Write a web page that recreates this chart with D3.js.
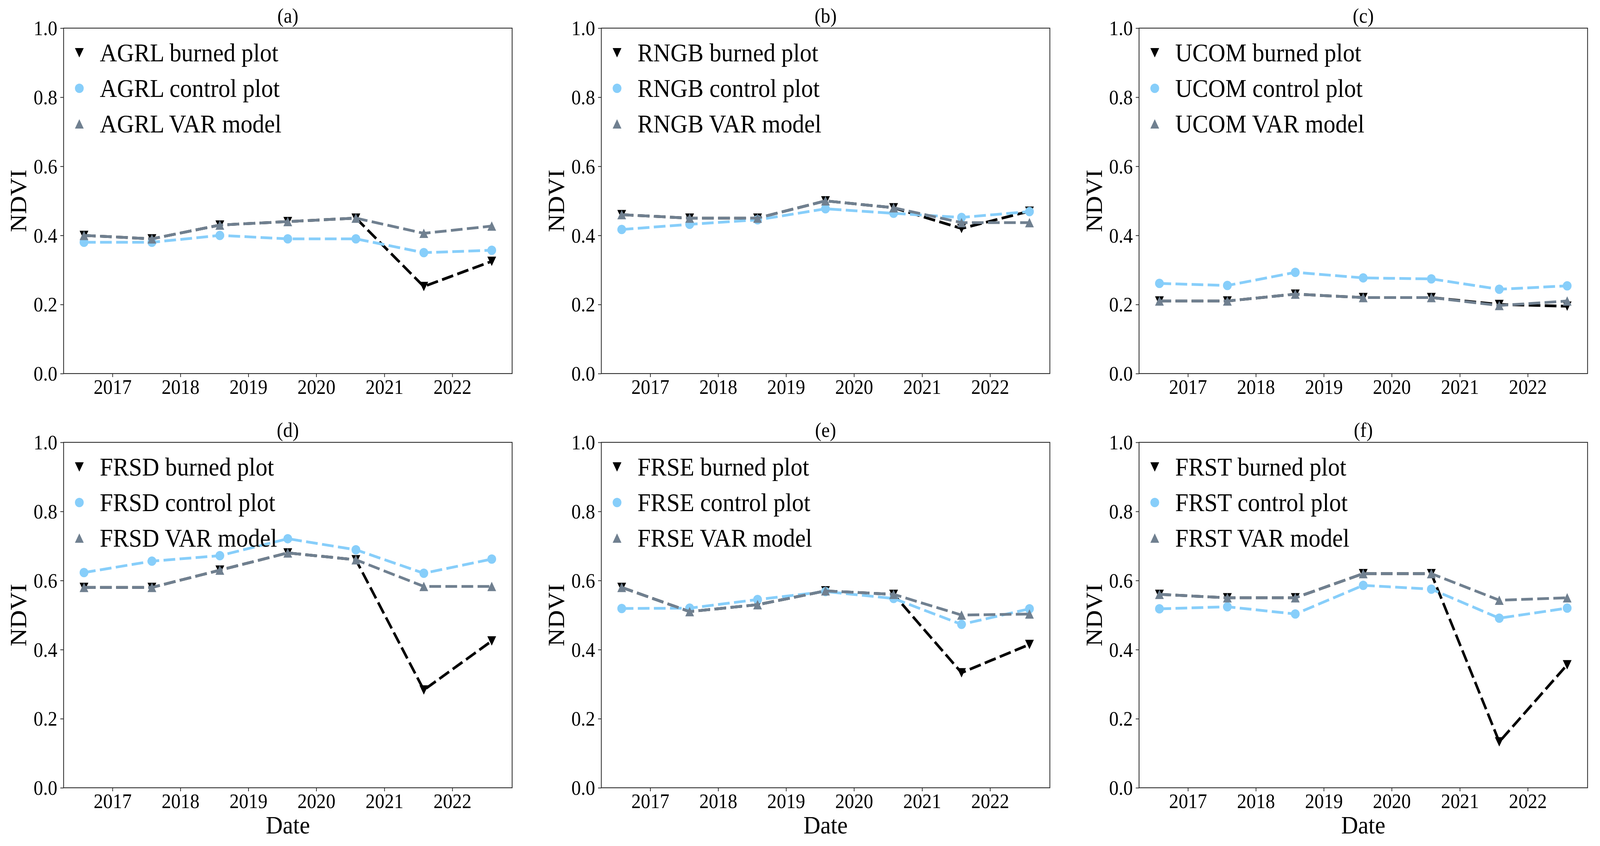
<!DOCTYPE html>
<html>
<head>
<meta charset="utf-8">
<script src="https://cdn.jsdelivr.net/npm/d3@7"></script>
<style>
  html, body { margin: 0; padding: 0; width: 100%; height: 100%; overflow: hidden; background: #fff; }
  svg { display: block; width: 100vw; height: 100vh; }
  text { font-family: "Liberation Serif", "Times New Roman", serif; fill: #000; }
</style>
</head>
<body>
<svg id="chart"></svg>
<script>
// observation dates (one per summer)
const dates = ['2016-08-01', '2017-08-01', '2018-08-01', '2019-08-01', '2020-08-01', '2021-08-01', '2022-08-01'];

const landCovers = ['AGRL', 'RNGB', 'UCOM', 'FRSD', 'FRSE', 'FRST'];
const panelTags = ['(a)', '(b)', '(c)', '(d)', '(e)', '(f)'];

const burnedValues = [
  [0.40, 0.39, 0.43, 0.44, 0.45, 0.252, 0.325],
  [0.46, 0.45, 0.45, 0.50, 0.48, 0.42, 0.47],
  [0.21, 0.21, 0.23, 0.22, 0.22, 0.20, 0.195],
  [0.58, 0.58, 0.63, 0.68, 0.66, 0.283, 0.425],
  [0.58, 0.51, 0.53, 0.57, 0.56, 0.333, 0.415],
  [0.56, 0.55, 0.55, 0.62, 0.62, 0.133, 0.356],
];

const controlValues = [
  [0.38, 0.38, 0.40, 0.39, 0.39, 0.35, 0.357],
  [0.417, 0.432, 0.445, 0.477, 0.464, 0.452, 0.469],
  [0.261, 0.255, 0.293, 0.277, 0.274, 0.244, 0.254],
  [0.623, 0.656, 0.672, 0.721, 0.689, 0.621, 0.662],
  [0.519, 0.52, 0.545, 0.568, 0.548, 0.473, 0.518],
  [0.518, 0.524, 0.503, 0.586, 0.575, 0.491, 0.52],
];

const varModelValues = [
  [0.40, 0.39, 0.43, 0.44, 0.45, 0.406, 0.427],
  [0.46, 0.45, 0.45, 0.50, 0.48, 0.437, 0.437],
  [0.21, 0.21, 0.23, 0.22, 0.22, 0.197, 0.21],
  [0.58, 0.58, 0.63, 0.68, 0.66, 0.583, 0.583],
  [0.58, 0.51, 0.53, 0.57, 0.56, 0.50, 0.503],
  [0.56, 0.55, 0.55, 0.62, 0.62, 0.543, 0.55],
];

const yTicks = [0, 0.2, 0.4, 0.6, 0.8, 1.0];

/**
 * Layout
 */
const W = 4377, H = 2165;
const colLeft = [174, 1645, 3116];
const rowTop = [72, 1132];
const plotW = 1227, plotH = 884;
const markerSize = 24;
const spineColor = '#2b2b2b';

const seriesDefs = [
  { key: 'burned', label: 'burned plot', color: '#000000', shape: 'down', values: burnedValues },
  { key: 'control', label: 'control plot', color: '#87CEFA', shape: 'circle', values: controlValues },
  { key: 'var', label: 'VAR model', color: '#708090', shape: 'up', values: varModelValues },
];

const parseDate = d3.utcParse('%Y-%m-%d');
const xDates = dates.map(parseDate);

// matplotlib-like 5% margins on the date axis
const [t0, t1] = d3.extent(xDates).map(d => +d);
const pad = (t1 - t0) * 0.05;

function markerPath(shape, s) {
  const h = s / 2;
  if (shape === 'down') return `M${-h},${-h}L${h},${-h}L0,${h}Z`;
  if (shape === 'up') return `M${-h},${h}L${h},${h}L0,${-h}Z`;
  return null;
}

function drawMarker(sel, shape, color) {
  if (shape === 'circle') {
    sel.append('circle').attr('r', markerSize / 2).attr('fill', color);
  } else {
    sel.append('path').attr('d', markerPath(shape, markerSize)).attr('fill', color);
  }
}

// stretch to the whole viewport so the layout lines up with the 4377x2165 frame
const svg = d3.select('#chart')
  .attr('viewBox', `0 0 ${W} ${H}`)
  .attr('preserveAspectRatio', 'none');

landCovers.forEach((lc, i) => {
  const row = Math.floor(i / 3);
  const col = i % 3;
  const left = colLeft[col];
  const top = rowTop[row];

  const x = d3.scaleUtc().domain([new Date(t0 - pad), new Date(t1 + pad)]).range([0, plotW]);
  const y = d3.scaleLinear().domain([0, 1]).range([plotH, 0]);

  const g = svg.append('g').attr('transform', `translate(${left},${top})`);

  // axes
  const xAxis = d3.axisBottom(x)
    .ticks(d3.utcYear.every(1))
    .tickFormat(d3.utcFormat('%Y'))
    .tickSize(9);
  const yAxis = d3.axisLeft(y)
    .tickValues(yTicks)
    .tickFormat(d3.format('.1f'))
    .tickSize(9);

  const gx = g.append('g').attr('transform', `translate(0,${plotH})`).call(xAxis);
  const gy = g.append('g').call(yAxis);

  [gx, gy].forEach(ax => {
    ax.attr('font-family', null);
    ax.select('.domain').remove();
    ax.selectAll('line').attr('stroke', spineColor).attr('stroke-width', 2);
    ax.selectAll('text').attr('font-size', 52).attr('fill', '#000');
  });
  gx.selectAll('text').attr('y', 52).attr('dy', 0);
  gy.selectAll('text').attr('x', -17).attr('dy', '0.34em');

  // series lines + markers
  seriesDefs.forEach(s => {
    const pts = xDates.map((d, k) => ({ d, v: s.values[i][k] }));
    const line = d3.line().x(p => x(p.d)).y(p => y(p.v));
    g.append('path')
      .datum(pts)
      .attr('d', line)
      .attr('fill', 'none')
      .attr('stroke', s.color)
      .attr('stroke-width', 7)
      .attr('stroke-dasharray', '32 12');
    const mk = g.append('g').selectAll('g')
      .data(pts)
      .enter()
      .append('g')
      .attr('transform', p => `translate(${x(p.d)},${y(p.v)})`);
    drawMarker(mk, s.shape, s.color);
  });

  // frame
  g.append('rect')
    .attr('width', plotW).attr('height', plotH)
    .attr('fill', 'none')
    .attr('stroke', spineColor)
    .attr('stroke-width', 2.2);

  // legend (markers only, no frame)
  const leg = g.append('g');
  seriesDefs.forEach((s, k) => {
    const cy = 63 + k * 91;
    const m = leg.append('g').attr('transform', `translate(43,${cy})`);
    drawMarker(m, s.shape, s.color);
    leg.append('text')
      .attr('x', 99)
      .attr('y', cy + 22)
      .attr('font-size', 65)
      .text(`${lc} ${s.label}`);
  });

  // panel tag
  g.append('text')
    .attr('x', plotW / 2)
    .attr('y', -14)
    .attr('text-anchor', 'middle')
    .attr('font-size', 52)
    .text(panelTags[i]);

  // y label
  g.append('text')
    .attr('transform', `translate(-102,${plotH / 2}) rotate(-90)`)
    .attr('text-anchor', 'middle')
    .attr('font-size', 64)
    .text('NDVI');

  // x label on bottom row only
  if (row === 1) {
    g.append('text')
      .attr('x', plotW / 2)
      .attr('y', plotH + 117)
      .attr('text-anchor', 'middle')
      .attr('font-size', 64)
      .text('Date');
  }
});
</script>
</body>
</html>
